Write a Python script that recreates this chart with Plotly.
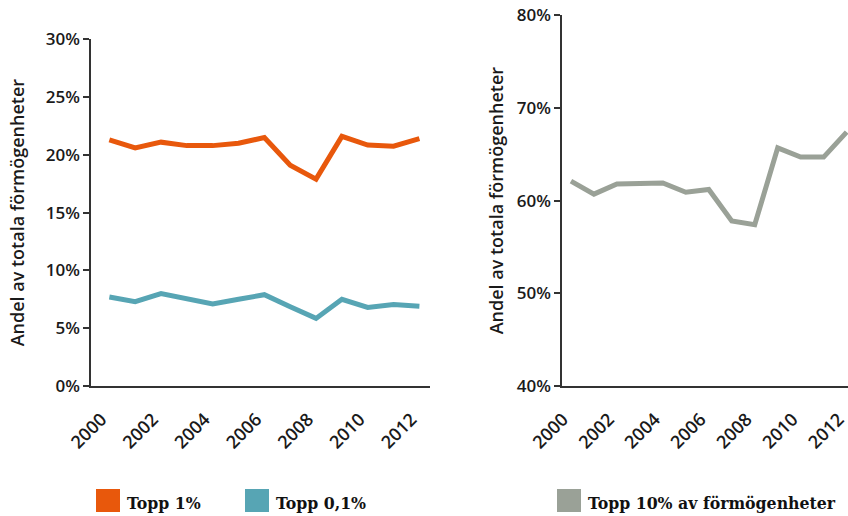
import plotly.graph_objects as go

years = list(range(2000, 2013))
topp1 = [21.3, 20.6, 21.1, 20.8, 20.8, 21.0, 21.5, 19.1, 17.9, 21.6, 20.85, 20.75, 21.4]
topp01 = [7.7, 7.3, 8.0, 7.5, 7.1, 7.5, 7.9, 6.85, 5.85, 7.5, 6.8, 7.05, 6.9]
topp10 = [62.1, 60.7, 61.8, 61.85, 61.9, 60.9, 61.2, 57.8, 57.4, 65.7, 64.7, 64.7, 67.4]

series_names = ["Topp 1%", "Topp 0,1%", "Topp 10% av förmögenheter"]
colors = ["#E8580C", "#57A5B4", "#9AA197"]
ytitle = "Andel av totala förmögenheter"
xticks = [2000, 2002, 2004, 2006, 2008, 2010, 2012]
yticks_left = [0, 5, 10, 15, 20, 25, 30]
yticks_right = [40, 50, 60, 70, 80]

W, H = 848, 516

fig = go.Figure()
fig.add_trace(go.Scatter(x=years, y=topp1, mode="lines", name=series_names[0],
                         line=dict(color=colors[0], width=5), xaxis="x", yaxis="y"))
fig.add_trace(go.Scatter(x=years, y=topp01, mode="lines", name=series_names[1],
                         line=dict(color=colors[1], width=5), xaxis="x", yaxis="y"))
fig.add_trace(go.Scatter(x=years, y=topp10, mode="lines", name=series_names[2],
                         line=dict(color=colors[2], width=5), xaxis="x2", yaxis="y2"))

ytickfont = dict(family="Open Sans", size=17, color="#1a1a1a", weight=600)
xtickfont = dict(family="Open Sans", size=18, color="#1a1a1a", weight=600)
titlefont = dict(family="Open Sans", size=18, color="#1a1a1a", weight=600)
axcol = "#333333"


def px_x(p):
    return p / W


def px_y(p):
    return 1 - p / H


common_x = dict(tickmode="array", tickvals=xticks, ticktext=[str(v) for v in xticks],
                tickangle=-45, tickfont=xtickfont, showline=True, linecolor=axcol,
                linewidth=1.5, showgrid=False, zeroline=False, ticks="", automargin=False,
                ticklabeloverflow="allow", ticklabelstandoff=14, ticklabelshift=-8)
common_y = dict(tickmode="array", tickfont=ytickfont, showline=True, linecolor=axcol,
                linewidth=1.5, showgrid=False, zeroline=False, ticks="outside", ticklen=6,
                tickcolor=axcol, tickwidth=1.5, automargin=False, ticklabeloverflow="allow")

fig.update_layout(
    template="none",
    width=W, height=H,
    margin=dict(l=0, r=0, t=0, b=0, pad=0),
    paper_bgcolor="white", plot_bgcolor="white",
    showlegend=False,
    xaxis=dict(domain=[px_x(91), px_x(430)], range=[1999.29, 2012.41], anchor="y", **common_x),
    yaxis=dict(domain=[px_y(386), px_y(39.3)], range=[0, 30],
               tickvals=yticks_left, ticktext=[f"{v}%" for v in yticks_left],
               title=dict(text=ytitle, font=titlefont, standoff=16), anchor="x", **common_y),
    xaxis2=dict(domain=[px_x(562), 1.0], range=[1999.61, 2012.06], anchor="y2", **common_x),
    yaxis2=dict(domain=[px_y(386), px_y(15.3)], range=[40, 80],
                tickvals=yticks_right, ticktext=[f"{v}%" for v in yticks_right],
                title=dict(text=ytitle, font=titlefont, standoff=8), anchor="x2", **common_y),
)

# custom legend (squares + labels)
legend_items = [(96, 0), (245, 1), (557, 2)]
for xpix, i in legend_items:
    fig.add_shape(type="rect", xref="paper", yref="paper",
                  x0=px_x(xpix), x1=px_x(xpix + 24), y0=px_y(512), y1=px_y(489),
                  fillcolor=colors[i], line=dict(width=0))
    fig.add_annotation(xref="paper", yref="paper", x=px_x(xpix + 29), y=px_y(503),
                       xanchor="left", yanchor="middle", showarrow=False,
                       text=series_names[i],
                       font=dict(family="DejaVu Serif Condensed, DejaVu Serif", size=17.5,
                                 color="#111111", weight="bold"))

fig.write_html("out.html", config={"displayModeBar": False},
               post_script="document.body.style.margin='0';")
